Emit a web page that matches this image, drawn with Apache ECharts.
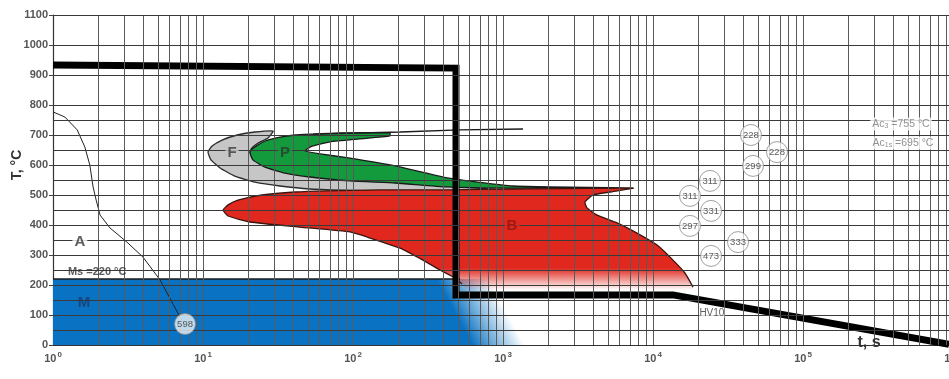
<!DOCTYPE html>
<html><head><meta charset="utf-8">
<script src="https://cdn.jsdelivr.net/npm/echarts@6/dist/echarts.min.js"></script>
<style>html,body{margin:0;padding:0;background:#fff}#c{width:949px;height:379px}</style>
</head><body><div id="c"></div>
<script>
// ---- data (time in s, temperature in °C) ----
const gridTemps = [50,100,150,200,250,300,350,400,450,500,550,600,650,700,750,800,900,1000,1100];
const decades = [1,10,100,1000,10000,100000];
const mantissas = [1,2,3,4,5,6,7,8,9];

const coolingTime = [1,1.2,1.45,1.63,1.76,1.85,1.94,2.06,2.4,3.11,3.98,5.17,7.03,7.59];
const coolingTemp = [777,760,717,660,600,527,483,433,390,343,293,217,93,70];

const thickTime = [1,486,486,13590,940000];
const thickTemp = [933,923,167,167,2];

const msTime = [1,517];
const msTemp = [220,220];

const pTailTime = [54.1,206,517,1359];
const pTailTemp = [703,710,717,720];

const mRegion = [[1,0],[1,220],[1500,220],[1500,0]];

const fRegion = [[29.3,713],[22.2,710],[16.9,700],[13.4,683],[11.5,663],[10.8,643],[11.3,617],[13.0,590],[16.3,563],[22.2,543],[32.6,530],[51.7,520],[95.5,515],[206,512],[443,510],[955,517],
  [423,530],[191,543],[95.5,550],[51.7,563],[35.2,577],[25.9,597],[21.5,620],[20.6,643],[21.2,657],[23.3,673],[27.1,690]];

const pRegion = [[176,707],[81.9,707],[54.1,703],[41.0,700],[32.6,693],[25.9,680],[22.6,663],[20.9,650],[20.6,640],[21.5,617],[25.9,593],[35.2,573],[51.7,560],[95.5,547],[191,540],[423,527],[1166,523],[7362,523],
  [1166,530],[423,557],[191,597],[95.5,623],[60.3,637],[47.9,647],[53.3,663],[70.3,677],[111,687],[176,697]];

const bEdge = [[18480,193],[16330,240],[13590,283],[10640,333],[7816,373],[5754,407],[4236,433],[3631,457],[3520,477],[3981,500],[5165,510],[7362,523],
  [1166,520],[443,517],[151,517],[68.1,514],[41,510],[24.7,500],[17.1,483],[14.7,467],[13.6,450],[14.7,430],[20.6,410],[44.3,393],[95.5,377],[124,360],[206,323],[293,283],[380,250],[479,223],[533,203]];
const bBottom = [[603,177],[19050,177]];

const hvTime = [44980,67100,46420,23990,17650,24370,17650,36880,24370,7.59];
const hvTemp = [700,643,597,547,497,447,397,343,297,70];
const hvValue = ['228','228','299','311','311','331','297','333','473','598'];

const phaseName = ['F','P','B','A','M'];
const phaseTime = [15.6,35.2,1148,1.51,1.61];
const phaseTemp = [640,640,397,343,140];

const noteText = ['Ms =220 °C','HV10','{n|Ac}{s|3}{n| =755 °C}','{n|Ac}{s|1s}{n| =695 °C}'];
const noteTime = [1.97,24700,450000,464000];
const noteTemp = [243,107,737,673];

// ---- chart ----
const chart = echarts.init(document.getElementById('c'));
const FONT = 'Liberation Sans, Arial, sans-serif';

function zip(a,b){return a.map((v,i)=>[v,b[i]]);}

function region(name, pts, fill, stroke, outline, smooth){
  return {
    type:'custom', name, coordinateSystem:'cartesian2d', silent:true, z:1, clip:true,
    data:[pts[0]],
    renderItem:function(params, api){
      const P = pts.map(p=>api.coord(p));
      const f = typeof fill==='function' ? fill(api) : fill;
      const children=[{type:'polygon', shape:{points:P, smooth:smooth||0}, style:{fill:f, stroke: outline?null:stroke, lineWidth:1.3}}];
      if(outline){
        children.push({type:'polyline', shape:{points:outline.map(p=>api.coord(p)), smooth:smooth||0}, style:{fill:null, stroke:stroke, lineWidth:1.3}});
      }
      return {type:'group', children};
    }
  };
}

const gridLines = [];
decades.forEach(d=>mantissas.forEach(m=>{ if(!(d===1&&m===1)) gridLines.push({xAxis:d*m, lineStyle:{color:'#5a5a5a',width:1,type:'solid'}}); }));
gridLines.push({xAxis:1000000, lineStyle:{color:'#5a5a5a',width:1,type:'solid'}});
gridTemps.forEach(t=>gridLines.push({yAxis:t, lineStyle:{color:'#3a3a3a',width:1.1,type:'solid'}}));

const phaseColors = {F:{c:'#3a3a3a',bg:'#c6c6c6'},P:{c:'#2e3a2e',bg:'#139a3c'},B:{c:'#8a1810',bg:'#e0281e'},A:{c:'#333',bg:'#fff'},M:{c:'#1d3b6b',bg:null}};

const option = {
  animation:false,
  grid:{left:53, right:-4, top:15, bottom:34, containLabel:false, outerBoundsMode:'none'},
  xAxis:{
    type:'log', logBase:10, min:1, max:1000000,
    axisLine:{show:true, lineStyle:{color:'#333', width:1.2}},
    axisTick:{show:false}, splitLine:{show:false}, minorSplitLine:{show:false},
    axisLabel:{
      margin:6,
      formatter:function(v){return '{b|10}{s|'+Math.round(Math.log10(v))+'}';},
      rich:{
        b:{fontSize:11, fontWeight:'bold', color:'#555', fontFamily:FONT},
        s:{fontSize:8, fontWeight:'bold', color:'#555', fontFamily:FONT, padding:[0,0,7,1]}
      }
    }
  },
  yAxis:{
    type:'value', min:0, max:1100, interval:100,
    axisLine:{show:true, lineStyle:{color:'#333', width:1.2}},
    axisTick:{show:true, length:4, lineStyle:{color:'#444'}},
    splitLine:{show:false},
    axisLabel:{fontSize:11, fontWeight:'bold', color:'#555', fontFamily:FONT, margin:5, formatter:function(v){return String(v);}}
  },
  graphic:[
    {type:'text', x:17, y:165, rotation:Math.PI/2, z:100,
      style:{text:'T, °C', font:'bold 14px '+FONT, fill:'#333', align:'center', verticalAlign:'middle'}},
    {type:'text', x:869, y:343, z:100,
      style:{text:'t, s', font:'bold 16px '+FONT, fill:'#333', align:'center', verticalAlign:'middle'}}
  ],
  series:[
    region('M', mRegion, function(api){
      const a = api.coord([517,77]), b = api.coord([955,150]);
      return new echarts.graphic.LinearGradient(a[0],a[1],b[0],b[1],[{offset:0,color:'#0a72c2'},{offset:1,color:'rgba(10,114,194,0)'}], true);
    }, null, null, 0),
    region('F', fRegion, '#c6c6c6', '#2a2a2a', null, 0.15),
    region('P', pRegion, '#139a3c', '#1a1a1a', null, 0.15),
    region('B', bEdge.concat(bBottom), function(api){
      const a = api.coord([1000,257]), b = api.coord([1000,183]);
      return new echarts.graphic.LinearGradient(a[0],a[1],b[0],b[1],[{offset:0,color:'#e0281e'},{offset:1,color:'rgba(224,40,30,0)'}], true);
    }, '#3a1510', bEdge, 0.15),
    {
      type:'line', name:'grid', data:[[1,0]], symbol:'none', silent:true, z:2,
      lineStyle:{opacity:0},
      markLine:{silent:true, symbol:['none','none'], label:{show:false}, animation:false,
        lineStyle:{type:'solid'}, data:gridLines}
    },
    {type:'line', name:'Ms', data:zip(msTime,msTemp), symbol:'none', z:3, silent:true,
      lineStyle:{color:'#1a1a1a', width:1.6}},
    {type:'line', name:'pTail', data:zip(pTailTime,pTailTemp), symbol:'none', z:3, silent:true,
      lineStyle:{color:'#1a1a1a', width:1.4}},
    {type:'line', name:'cooling', data:zip(coolingTime,coolingTemp), symbol:'none', z:3, silent:true,
      lineStyle:{color:'#222', width:1}},
    {type:'line', name:'path', data:zip(thickTime,thickTemp), symbol:'none', z:4, silent:true,
      lineStyle:{color:'#000', width:7, join:'miter', cap:'butt'}},
    {type:'scatter', name:'hv', z:5, silent:true, symbolSize:21,
      data:hvTime.map((t,i)=>[t,hvTemp[i],hvValue[i]]),
      itemStyle:{color:'rgba(255,255,255,0.92)', borderColor:'#8a8a8a', borderWidth:1},
      label:{show:true, position:'inside', formatter:p=>p.value[2], fontSize:9.5, color:'#333', fontFamily:FONT}},
    {type:'scatter', name:'phases', z:6, silent:true, symbolSize:1, itemStyle:{color:'rgba(0,0,0,0)'},
      data:phaseName.map((n,i)=>({value:[phaseTime[i],phaseTemp[i]], label:{
        show:true, position:'inside', formatter:n, fontSize:15, fontWeight:'bold', fontFamily:FONT,
        color:phaseColors[n].c, backgroundColor:phaseColors[n].bg, padding:[0,2,0,2]}}))},
    {type:'scatter', name:'notes', z:6, silent:true, symbolSize:1, itemStyle:{color:'rgba(0,0,0,0)'},
      data:noteText.map((t,i)=>({value:[noteTime[i],noteTemp[i]], label:(function(){
        if(i===0) return {show:true, position:'inside', formatter:t, fontSize:11, fontWeight:'bold', color:'#333', fontFamily:FONT};
        if(i===1) return {show:true, position:'inside', formatter:t, fontSize:10, color:'#333', fontFamily:FONT, backgroundColor:'#fff'};
        return {show:true, position:'inside', formatter:t, backgroundColor:'#fff', padding:[1,2,1,2],
          rich:{n:{fontSize:10.5, color:'#777', fontFamily:FONT}, s:{fontSize:7, color:'#777', fontFamily:FONT, padding:[4,0,0,0]}}};
      })()}))}
  ]
};
chart.setOption(option);
</script>
</body></html>
